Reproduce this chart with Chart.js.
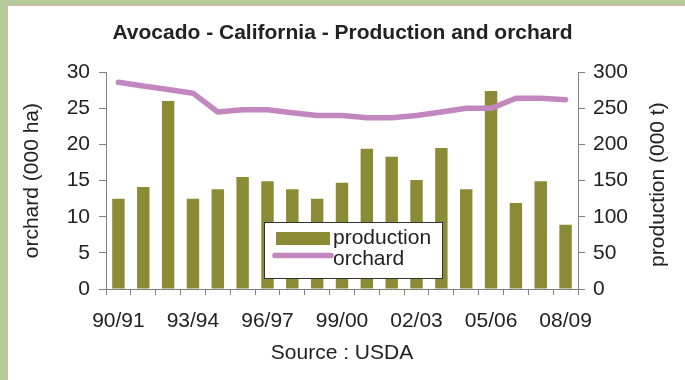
<!DOCTYPE html>
<html>
<head>
<meta charset="utf-8">
<script src="https://cdn.jsdelivr.net/npm/chart.js@4"></script>
<style>
    body { margin: 0; background: #ffffff; }
    #frame-left { position: absolute; left: 0; top: 0; width: 7px; height: 380px; background: #b3cc98; border-right: 1px solid #dcb4b4; }
    #frame-top { position: absolute; left: 0; top: 0; width: 685px; height: 5px; background: #b3cc98; border-bottom: 1px solid #dcb4b4; }
    #wrap { position: absolute; left: 0; top: 0; width: 685px; height: 380px; }
</style>
</head>
<body>
<div id="frame-top"></div>
<div id="frame-left"></div>
<div id="wrap"><canvas id="avocadoChart" width="685" height="380"></canvas></div>

<script>
// DATA
const seasons = ['90/91', '91/92', '92/93', '93/94', '94/95', '95/96', '96/97', '97/98', '98/99', '99/00',
                 '00/01', '01/02', '02/03', '03/04', '04/05', '05/06', '06/07', '07/08', '08/09'];
const production = [125, 141, 260, 125, 138, 155, 149, 138, 125, 147, 194, 183, 151, 195, 138, 274, 119, 149, 89];
const orchard = [28.6, 28.1, 27.6, 27.1, 24.5, 24.8, 24.8, 24.4, 24.0, 24.0, 23.7, 23.7, 24.0, 24.5, 25.0, 25.0, 26.4, 26.4, 26.2];
const leftTicks = [0, 5, 10, 15, 20, 25, 30];
const rightTicks = [0, 50, 100, 150, 200, 250, 300];

const OLIVE = '#8b8b36';
const ORCHID = '#c387c0';
const AXIS = '#808080';
const FONT = 'Liberation Sans, Arial, sans-serif';

// RIGHT AXIS TITLE (reads bottom to top, like the left one)
const rightTitle = {
    id: 'rightTitle',
    afterDraw: function(chart) {
        const ctx = chart.ctx;
        const area = chart.chartArea;
        ctx.save();
        ctx.translate(658, (area.top + area.bottom) / 2 + 4);
        ctx.rotate(-Math.PI / 2);
        ctx.font = '21px ' + FONT;
        ctx.fillStyle = '#222222';
        ctx.textAlign = 'center';
        ctx.textBaseline = 'middle';
        ctx.fillText('production (000 t)', 0, 0);
        ctx.restore();
    }
};

// LEGEND BOX INSIDE THE PLOT
const boxLegend = {
    id: 'boxLegend',
    afterDatasetsDraw: function(chart) {
        const ctx = chart.ctx;
        const sets = chart.data.datasets;
        const x = 264, y = 222, w = 178, h = 56;
        ctx.save();
        ctx.fillStyle = '#ffffff';
        ctx.fillRect(x, y, w, h);
        ctx.strokeStyle = '#333333';
        ctx.lineWidth = 1;
        ctx.strokeRect(x + 0.5, y + 0.5, w, h);

        ctx.fillStyle = sets[0].backgroundColor;
        ctx.fillRect(x + 12, y + 10, 54, 13);

        ctx.strokeStyle = sets[1].borderColor;
        ctx.lineWidth = 5.5;
        ctx.lineCap = 'round';
        ctx.beginPath();
        ctx.moveTo(x + 11, y + 33.5);
        ctx.lineTo(x + 67, y + 33.5);
        ctx.stroke();

        ctx.font = '21px ' + FONT;
        ctx.fillStyle = '#222222';
        ctx.textBaseline = 'middle';
        ctx.fillText(sets[0].label, x + 69, y + 16);
        ctx.fillText(sets[1].label, x + 69, y + 37);
        ctx.restore();
    }
};

const ctx = document.getElementById('avocadoChart').getContext('2d');
const avocadoChart = new Chart(ctx, {
    data: {
        labels: seasons,
        datasets: [{
            type: 'bar',
            label: 'production',
            data: production,
            yAxisID: 'y1',
            backgroundColor: OLIVE,
            borderWidth: 0,
            categoryPercentage: 1,
            barPercentage: 0.5,
            order: 1
        }, {
            type: 'line',
            label: 'orchard',
            data: orchard,
            yAxisID: 'y',
            borderColor: ORCHID,
            borderWidth: 5.5,
            borderCapStyle: 'round',
            borderJoinStyle: 'round',
            pointRadius: 0,
            tension: 0,
            order: 0
        }]
    },
    options: {
        responsive: false,
        animation: false,
        layout: { padding: 0 },
        plugins: {
            legend: { display: false },
            tooltip: { enabled: false },
            title: {
                display: true,
                text: 'Avocado - California - Production and orchard',
                color: '#222222',
                font: { family: FONT, size: 21, weight: 'bold' },
                padding: { top: 21, bottom: 26 }
            }
        },
        scales: {
            x: {
                offset: true,
                grid: { offset: true, drawOnChartArea: false, drawTicks: true, tickLength: 6, color: AXIS },
                border: { display: true, color: AXIS },
                ticks: {
                    autoSkip: false,
                    maxRotation: 0,
                    padding: 14,
                    color: '#222222',
                    font: { family: FONT, size: 21 },
                    callback: function(value, index) {
                        return index % 3 === 0 ? seasons[index] : '';
                    }
                },
                title: {
                    display: true,
                    text: 'Source : USDA',
                    color: '#222222',
                    font: { family: FONT, size: 21 },
                    padding: { top: 0, bottom: 14 }
                },
                afterFit: function(scale) { scale.height = 91; }
            },
            y: {
                position: 'left',
                min: 0,
                max: 30,
                afterBuildTicks: function(scale) {
                    scale.ticks = leftTicks.map(function(v) { return { value: v }; });
                },
                grid: { drawOnChartArea: false, drawTicks: true, tickLength: 7, color: AXIS },
                border: { display: true, color: AXIS },
                ticks: { padding: 9, color: '#222222', font: { family: FONT, size: 21 } },
                title: {
                    display: true,
                    text: 'orchard (000 ha)',
                    color: '#222222',
                    font: { family: FONT, size: 21 },
                    padding: { top: 20, bottom: 0 }
                },
                afterFit: function(scale) { scale.width = 106; }
            },
            y1: {
                position: 'right',
                min: 0,
                max: 300,
                afterBuildTicks: function(scale) {
                    scale.ticks = rightTicks.map(function(v) { return { value: v }; });
                },
                grid: { drawOnChartArea: false, drawTicks: true, tickLength: 7, color: AXIS },
                border: { display: true, color: AXIS },
                ticks: { padding: 8, color: '#222222', font: { family: FONT, size: 21 } },
                afterFit: function(scale) { scale.width = 107; }
            }
        }
    },
    plugins: [rightTitle, boxLegend]
});
</script>
</body>
</html>
